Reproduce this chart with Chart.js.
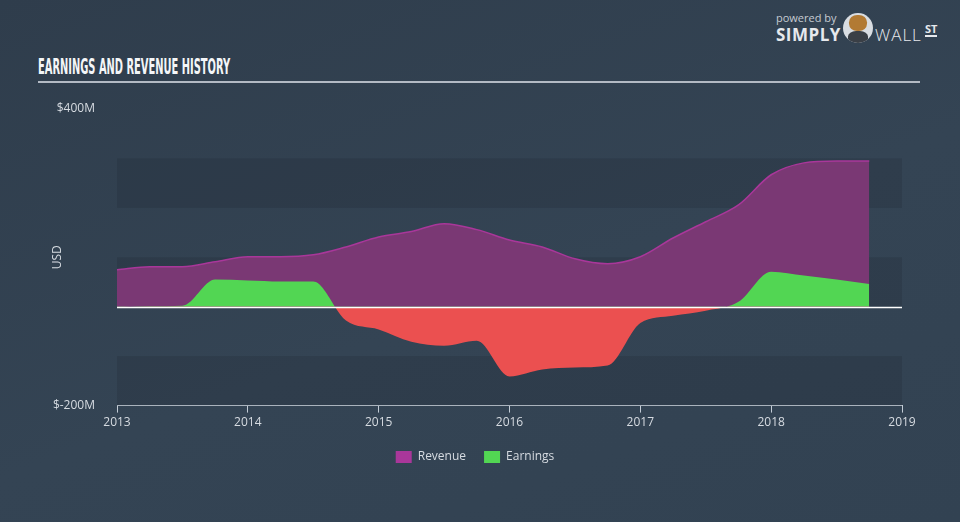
<!DOCTYPE html>
<html>
<head>
<meta charset="utf-8">
<script src="https://cdn.jsdelivr.net/npm/chart.js@4/dist/chart.umd.min.js"></script>
<style>
  html, body { margin: 0; padding: 0; }
  body {
    width: 960px; height: 522px; overflow: hidden; position: relative;
    background: linear-gradient(160deg, #2f3d4c 0%, #344454 55%, #324252 100%);
    font-family: "Open Sans", sans-serif;
  }
  #title {
    position: absolute; left: 38px; top: 55px;
    font-family: "Liberation Sans Narrow", "DejaVu Sans Condensed", sans-serif;
    font-weight: bold; font-size: 21px; color: #f4f6f8;
    transform-origin: 0 0; white-space: nowrap;
  }
  #rule { position: absolute; left: 38px; top: 81px; width: 882px; height: 2px; background: #b3bac4; }
  #logo { position: absolute; left: 776px; top: 10px; color: #e6e9ed; }
  #logo .pb { position: absolute; left: 0; top: 0; font-size: 11px; color: #c5cbd2; white-space: nowrap; }
  #logo .simply { position: absolute; left: 0; top: 13px; font-size: 17px; font-weight: bold; letter-spacing: 0.5px; }
  #logo .bull { position: absolute; left: 67px; top: 3px; width: 30px; height: 30px; border-radius: 50%; background: #d9dde2; overflow: hidden; }
  #logo .bull:before { content: ""; position: absolute; left: 6px; top: 2px; width: 18px; height: 16px; border-radius: 45%; background: #b27a33; }
  #logo .bull:after { content: ""; position: absolute; left: 5px; top: 18px; width: 20px; height: 14px; border-radius: 40% 40% 0 0; background: #3a3f46; }
  #logo .wall { position: absolute; left: 99px; top: 13px; font-size: 17px; font-weight: 300; letter-spacing: 1px; color: #e6e9ed; }
  #logo .st { position: absolute; left: 149px; top: 13px; font-size: 11px; font-weight: bold; border-bottom: 2px solid #e6e9ed; line-height: 12px; }
  #wrap { position: absolute; left: 0; top: 0; width: 960px; height: 522px; }
</style>
</head>
<body>
<div id="title">EARNINGS AND REVENUE HISTORY</div>
<div id="rule"></div>
<div id="logo">
  <span class="pb">powered by</span>
  <span class="simply">SIMPLY</span>
  <span class="bull"></span>
  <span class="wall">WALL</span>
  <span class="st">ST</span>
</div>
<div id="wrap"><canvas id="chart" width="960" height="522"></canvas></div>
<script>
  // quarterly points, values in $M
  const quarters = [2013, 2013.25, 2013.5, 2013.75, 2014, 2014.25, 2014.5, 2014.75,
    2015, 2015.25, 2015.5, 2015.75, 2016, 2016.25, 2016.5, 2016.75,
    2017, 2017.25, 2017.5, 2017.75, 2018, 2018.25, 2018.5, 2018.75];
  const revenue = [75, 81, 81, 91, 101, 101, 105, 121,
    141, 152, 168, 156, 135, 121, 97, 87,
    101, 139, 172, 206, 267, 291, 295, 295];
  const earnings = [-1, 1, 2, 55, 53, 51, 51, -28,
    -46, -71, -79, -69, -141, -127, -123, -119,
    -33, -18, -8, 10, 71, 63, 55, 46];
  const yearTicks = [2013, 2014, 2015, 2016, 2017, 2018, 2019];
  const valueTicks = [-200, 400];

  // squeeze the title to the condensed width of the original
  const title = document.getElementById('title');
  title.style.transform = 'scaleX(' + (192 / title.offsetWidth) + ')';

  const toPoints = (vals) => vals.map((v, i) => ({ x: quarters[i], y: v }));

  const bandsPlugin = {
    id: 'bands',
    beforeDatasetsDraw(chart) {
      const { ctx, chartArea, scales } = chart;
      const y = scales.y;
      ctx.save();
      ctx.fillStyle = 'rgba(30, 40, 52, 0.25)';
      [[200, 300], [0, 100], [-200, -100]].forEach(([lo, hi]) => {
        const top = y.getPixelForValue(hi);
        const bottom = y.getPixelForValue(lo);
        ctx.fillRect(chartArea.left, top, chartArea.right - chartArea.left, bottom - top);
      });
      ctx.restore();
    },
    afterDatasetsDraw(chart) {
      const { ctx, chartArea, scales } = chart;
      const zero = Math.round(scales.y.getPixelForValue(0)) + 0.5;
      ctx.save();
      ctx.strokeStyle = '#ffffff';
      ctx.lineWidth = 1.5;
      ctx.beginPath();
      ctx.moveTo(chartArea.left, zero);
      ctx.lineTo(chartArea.right, zero);
      ctx.stroke();
      ctx.restore();
    }
  };

  new Chart(document.getElementById('chart'), {
    type: 'line',
    data: {
      datasets: [{
        label: 'Revenue',
        data: toPoints(revenue),
        borderColor: '#a9379a',
        backgroundColor: '#a9379a',
        borderWidth: 1.5,
        pointRadius: 0,
        cubicInterpolationMode: 'monotone',
        fill: { target: 'origin', above: '#7a3874', below: '#7a3874' },
        order: 2
      }, {
        label: 'Earnings',
        data: toPoints(earnings),
        borderColor: 'rgba(0,0,0,0)',
        backgroundColor: '#52d653',
        borderWidth: 0,
        pointRadius: 0,
        cubicInterpolationMode: 'monotone',
        fill: { target: 'origin', above: '#52d653', below: '#eb5050' },
        order: 1
      }]
    },
    options: {
      responsive: false,
      animation: false,
      layout: { padding: { left: 0, right: 10, top: 109, bottom: 49 } },
      plugins: {
        title: { display: false },
        tooltip: { enabled: false },
        legend: {
          position: 'bottom',
          labels: {
            color: '#d6dbe1',
            font: { family: 'Open Sans', size: 12 },
            boxWidth: 16,
            boxHeight: 12,
            padding: 18,
            generateLabels(chart) {
              return chart.data.datasets.map((ds, i) => ({
                text: ds.label,
                fillStyle: i === 0 ? '#a9379a' : '#52d653',
                strokeStyle: 'rgba(0,0,0,0)',
                lineWidth: 0,
                fontColor: '#d6dbe1',
                datasetIndex: i
              }));
            }
          }
        }
      },
      scales: {
        x: {
          type: 'linear',
          min: 2013,
          max: 2019,
          afterBuildTicks(scale) { scale.ticks = yearTicks.map(v => ({ value: v })); },
          ticks: {
            color: '#d6dbe1',
            font: { family: 'Open Sans', size: 12 },
            padding: 3,
            maxRotation: 0,
            callback: (v) => String(v)
          },
          grid: { display: true, drawOnChartArea: false, drawTicks: true, tickLength: 7, color: '#c3ccd6' },
          border: { display: true, color: '#c3ccd6', width: 1 }
        },
        y: {
          min: -200,
          max: 400,
          afterBuildTicks(scale) { scale.ticks = valueTicks.map(v => ({ value: v })); },
          afterFit(scale) { scale.width = 117; },
          ticks: {
            color: '#d6dbe1',
            font: { family: 'Open Sans', size: 12 },
            padding: 14,
            callback: (v) => '$' + v + 'M'
          },
          grid: { display: false },
          border: { display: false },
          title: {
            display: true,
            text: 'USD',
            color: '#d6dbe1',
            font: { family: 'Open Sans', size: 12 },
            padding: { top: 50, bottom: 0 }
          }
        },
        // empty box on the right so the chart area ends where the original does
        spacer: {
          type: 'linear',
          position: 'right',
          display: true,
          afterFit(scale) { scale.width = 48; },
          ticks: { display: false },
          grid: { display: false },
          border: { display: false }
        }
      }
    },
    plugins: [bandsPlugin]
  });
</script>
</body>
</html>
